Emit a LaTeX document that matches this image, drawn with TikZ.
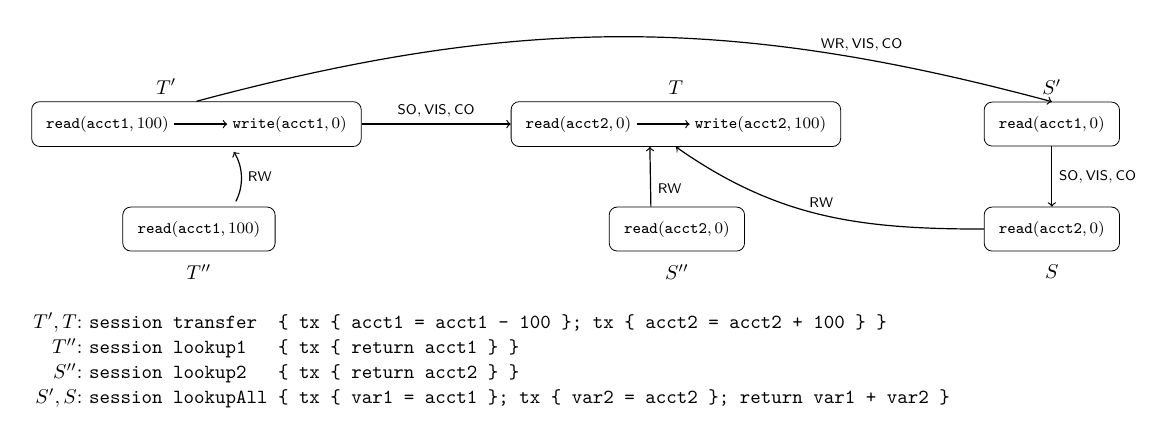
\documentclass[tikz,border=0pt]{standalone}
\usepackage{amsmath}
\usepackage{amssymb}
\usepackage{tikz}
\usetikzlibrary{positioning,fit}

\tikzset{
  txbox/.style={draw, rounded corners, inner xsep=7.4pt, minimum height=22pt, font=\footnotesize},
  opnode/.style={inner sep=2.5pt, font=\footnotesize},
  rel/.style={font=\scriptsize},
  dep/.style={->, semithick},
}

\begin{document}
\begin{tikzpicture}
  \useasboundingbox (0,0) rectangle (20.23,7.40);

  % transfer session: two transactions
  \node[opnode] (r1) at (1.889,5.219) {$\mathtt{read}(\mathtt{acct1},100)$};
  \node[opnode, right=0.93cm of r1] (w1) {$\mathtt{write}(\mathtt{acct1},0)$};
  \node[txbox, fit=(r1)(w1), inner sep=4.5pt] (Tp) {};
  \draw[dep] (r1) -- (w1);

  \node[opnode] (r2) at (10.166,5.219) {$\mathtt{read}(\mathtt{acct2},0)$};
  \node[opnode, right=0.93cm of r2] (w2) {$\mathtt{write}(\mathtt{acct2},100)$};
  \node[txbox, fit=(r2)(w2), inner sep=4.5pt] (T) {};
  \draw[dep] (r2) -- (w2);

  % lookup sessions
  \node[txbox] (Sp) at (18.487,5.219) {$\mathtt{read}(\mathtt{acct1},0)$};
  \node[txbox] (S) at (18.487,3.374) {$\mathtt{read}(\mathtt{acct2},0)$};
  \node[txbox] (Tpp) at (3.497,3.374) {$\mathtt{read}(\mathtt{acct1},100)$};
  \node[txbox] (Spp) at (11.897,3.374) {$\mathtt{read}(\mathtt{acct2},0)$};

  % transaction names
  \node[above=0pt of Tp.north, xshift=-0.53cm] (lTp) {$T'$};
  \node[above=0pt of T] (lT) {$T$};
  \node[above=0pt of Sp] (lSp) {$S'$};
  \node[below=3pt of Tpp] (lTpp) {$T''$};
  \node[below=3pt of Spp] (lSpp) {$S''$};
  \node[below=3pt of S] (lS) {$S$};

  % dependencies
  \draw[dep] (Tp) -- node[rel, above] {$\mathsf{SO},\mathsf{VIS},\mathsf{CO}$} (T);
  \draw[dep] (Tp.north) to[bend left=15] node[rel, pos=0.79, above] {$\mathsf{WR},\mathsf{VIS},\mathsf{CO}$} (Sp.north);
  \draw[dep, shorten <=3pt, shorten >=3pt] ([xshift=0.6cm]Tpp.north) to[bend right=30] node[rel, right] {$\mathsf{RW}$} ([xshift=0.6cm]Tp.south);
  \draw[dep] ([xshift=-0.457cm]Spp.north) -- node[rel, right, pos=0.3] {$\mathsf{RW}$} ([xshift=-0.457cm]T.south);
  \draw[dep] (S.west) to[out=180, in=-35] node[rel, above] {$\mathsf{RW}$} (T.south);
  \draw[dep] (Sp) -- node[rel, right] {$\mathsf{SO},\mathsf{VIS},\mathsf{CO}$} (S);

  % session code
  \node[anchor=base west, inner sep=0pt] (code) at (0.58,1.634) {%
    \renewcommand{\arraystretch}{1.055}%
    \begin{tabular}[t]{@{}r@{:\ }l@{}}
      $T',T$ & \texttt{session transfer\ \ \{ tx \{ acct1 = acct1 - 100 \}; tx \{ acct2 = acct2 + 100 \} \}} \\
      $T''$ & \texttt{session lookup1\ \ \ \{ tx \{ return acct1 \} \}} \\
      $S''$ & \texttt{session lookup2\ \ \ \{ tx \{ return acct2 \} \}} \\
      $S',S$ & \texttt{session lookupAll \{ tx \{ var1 = acct1 \}; tx \{ var2 = acct2 \}; return var1 + var2 \}}
    \end{tabular}};
\end{tikzpicture}
\end{document}
